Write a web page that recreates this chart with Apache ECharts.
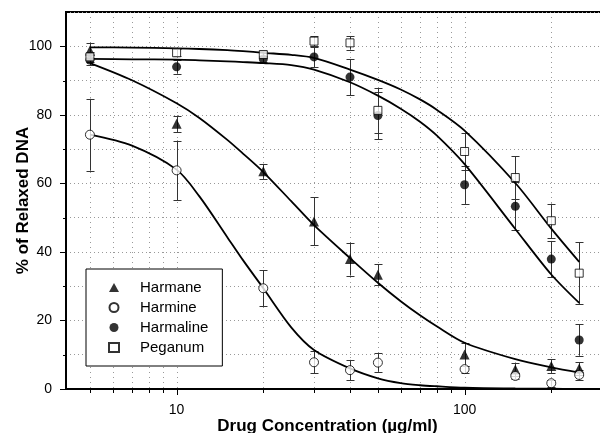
<!DOCTYPE html>
<html>
<head>
<meta charset="utf-8">
<script src="https://cdn.jsdelivr.net/npm/echarts@6/dist/echarts.min.js"></script>
<style>
    html, body { margin: 0; padding: 0; background: #fff; }
    #chart { width: 600px; height: 433px; }
</style>
</head>
<body>
<div id="chart"></div>
<script>
// 浓度 (µg/ml) 与各组的平均值 / 误差
let conc = [5, 10, 20, 30, 40, 50, 100, 150, 200, 250];
let harmane = [98.8, 77.4, 63.5, 48.9, 37.9, 33.3, 10.1, 5.7, 6.7, 6.0];
let harmaneErr = [2.2, 2.4, 2.2, 7.0, 4.8, 3.1, 3.4, 2.0, 2.0, 1.8];
let harmine = [74.2, 63.8, 29.4, 7.8, 5.5, 7.7, 5.8, 3.8, 1.7, 4.1];
let harmineErr = [10.5, 8.7, 5.2, 3.2, 3.0, 2.7, 1.0, 1.0, 1.0, 1.5];
let harmaline = [96.0, 94.0, 96.3, 96.9, 91.0, 79.8, 59.6, 53.3, 37.9, 14.3];
let harmalineErr = [1.5, 2.0, 1.0, 3.0, 5.3, 7.0, 5.6, 7.0, 5.3, 4.6];
let peganum = [96.9, 98.1, 97.6, 101.5, 101.0, 81.3, 69.3, 61.7, 49.1, 33.8];
let peganumErr = [1.5, 1.0, 1.0, 1.5, 2.0, 6.5, 5.4, 6.2, 5.0, 9.0];

// 拟合曲线
let fitX = [5, 7, 10, 12, 15, 17, 20, 25, 30, 40, 50, 60, 70, 80, 100, 150, 200, 250];
let harmaneFit = [95.1, 90.1, 83.4, 79.1, 72.7, 68.7, 63.3, 54.8, 47.8, 38.2, 31.0, 25.6, 21.5, 18.3, 13.5, 8.7, 6.3, 4.8];
let harmineFit = [74.2, 71.0, 64.0, 56.2, 44.3, 37.6, 29.4, 18.0, 11.4, 6.0, 3.1, 1.7, 1.1, 0.8, 0.4, 0.15, 0.08, 0.05];
let harmalineFit = [96.3, 96.2, 96.1, 95.9, 95.6, 95.4, 95.1, 94.5, 93.2, 89.5, 85.6, 81.8, 78.0, 74.0, 65.6, 46.7, 33.4, 25.1];
let peganumFit = [99.7, 99.6, 99.4, 99.2, 98.9, 98.6, 98.1, 97.5, 96.6, 93.2, 90.2, 87.4, 84.5, 81.5, 75.4, 60.1, 46.8, 37.1];

// 刻度
let xTicks = [5, 6, 7, 8, 9, 10, 20, 30, 40, 50, 60, 70, 80, 90, 100, 200];
let xMajorTicks = [10, 100];
let yTicks = [0, 10, 20, 30, 40, 50, 60, 70, 80, 90, 100];
let yLabels = [0, 20, 40, 60, 80, 100];

let xMin = 4.13, xMax = 300;
let yMin = 0, yMax = 110;

let myChart = echarts.init(document.getElementById('chart'));

function px(v) {
    return Math.round(v) + 0.5;
}

// x 方向网格线 + 刻度
function renderXTick(params, api) {
    let v = api.value(0);
    let b = api.coord([v, yMin]);
    let t = api.coord([v, yMax]);
    let len = xMajorTicks.indexOf(v) >= 0 ? 6 : 4;
    let x = px(b[0]);
    return {
        type: 'group',
        children: [{
            type: 'line',
            shape: { x1: x, y1: b[1] - 1, x2: x, y2: t[1] + 1 },
            style: { stroke: '#999', lineWidth: 1, lineDash: [1, 4] }
        }, {
            type: 'line',
            shape: { x1: x, y1: b[1], x2: x, y2: b[1] + len },
            style: { stroke: '#000', lineWidth: 1 }
        }]
    };
}

// y 刻度
function renderYTick(params, api) {
    let v = api.value(1);
    let p = api.coord([xMin, v]);
    let len = yLabels.indexOf(v) >= 0 ? 6 : 3;
    let y = px(p[1]);
    return {
        type: 'line',
        shape: { x1: p[0], y1: y, x2: p[0] - len, y2: y },
        style: { stroke: '#000', lineWidth: 1 }
    };
}

// 误差棒
function renderErr(params, api) {
    let x = api.value(0), y = api.value(1), e = api.value(2);
    let hi = api.coord([x, y + e]);
    let lo = api.coord([x, y - e]);
    let cx = px(hi[0]);
    let style = { stroke: '#333', lineWidth: 1 };
    return {
        type: 'group',
        children: [
            { type: 'line', shape: { x1: cx, y1: hi[1], x2: cx, y2: lo[1] }, style: style },
            { type: 'line', shape: { x1: cx - 4, y1: px(hi[1]), x2: cx + 4, y2: px(hi[1]) }, style: style },
            { type: 'line', shape: { x1: cx - 4, y1: px(lo[1]), x2: cx + 4, y2: px(lo[1]) }, style: style }
        ]
    };
}

function pairs(xs, ys) {
    return xs.map(function (x, i) { return [x, ys[i]]; });
}

function errs(ys, es) {
    return conc.map(function (x, i) { return [x, ys[i], es[i]]; });
}

let errData = [].concat(
    errs(harmane, harmaneErr),
    errs(harmine, harmineErr),
    errs(harmaline, harmalineErr),
    errs(peganum, peganumErr)
);

let fitLine = { color: '#000', width: 1.8 };

let option = {
    animation: false,
    textStyle: { fontFamily: 'Liberation Sans, Arial, sans-serif', color: '#000' },
    grid: {
        left: 66,
        top: 12,
        right: -2,
        bottom: 44,
        show: true,
        borderColor: '#000',
        borderWidth: 2,
        containLabel: false,
        outerBoundsMode: 'none'
    },
    legend: {
        left: 86,
        top: 269,
        orient: 'vertical',
        backgroundColor: '#fff',
        borderColor: '#000',
        borderWidth: 1,
        borderRadius: 0,
        padding: [11, 14, 11, 22],
        itemWidth: 10,
        itemHeight: 9,
        itemGap: 5,
        textStyle: { fontSize: 15, lineHeight: 15, color: '#000', padding: [0, 0, 0, 16] },
        data: ['Harmane', 'Harmine', 'Harmaline', 'Peganum']
    },
    xAxis: {
        type: 'log',
        logBase: 10,
        min: xMin,
        max: xMax,
        name: 'Drug Concentration (µg/ml)',
        nameLocation: 'middle',
        nameGap: 29,
        nameMoveOverlap: false,
        nameTextStyle: { fontSize: 17, fontWeight: 'bold', color: '#000', padding: [0, 13, 0, 0] },
        axisLine: { lineStyle: { color: '#000', width: 2 } },
        axisTick: { show: false },
        minorTick: { show: false },
        splitLine: { show: false },
        axisLabel: {
            fontSize: 14,
            color: '#000',
            margin: 14,
            showMinLabel: false,
            showMaxLabel: false,
            formatter: function (v) {
                return xMajorTicks.some(function (m) { return Math.abs(v - m) < 1e-6; }) ? String(Math.round(v)) : '';
            }
        }
    },
    yAxis: {
        type: 'value',
        min: yMin,
        max: yMax,
        interval: 10,
        name: '% of Relaxed DNA',
        nameLocation: 'middle',
        nameGap: 34,
        nameMoveOverlap: false,
        nameTextStyle: { fontSize: 17, fontWeight: 'bold', color: '#000' },
        axisLine: { show: true, lineStyle: { color: '#000', width: 2 } },
        axisTick: { show: false },
        splitLine: { show: true, lineStyle: { color: '#999', width: 1, type: [1, 3] } },
        axisLabel: {
            fontSize: 14,
            color: '#000',
            margin: 14,
            formatter: function (v) {
                return yLabels.indexOf(v) >= 0 ? String(v) : '';
            }
        }
    },
    series: [{
        name: 'xgrid',
        type: 'custom',
        renderItem: renderXTick,
        data: xTicks.map(function (v) { return [v, 0]; }),
        silent: true,
        z: 1
    }, {
        name: 'yticks',
        type: 'custom',
        renderItem: renderYTick,
        data: yTicks.map(function (v) { return [xMin, v]; }),
        silent: true,
        z: 1
    }, {
        name: 'errors',
        type: 'custom',
        renderItem: renderErr,
        data: errData,
        silent: true,
        z: 3
    }, {
        name: 'Harmane fit', type: 'line', data: pairs(fitX, harmaneFit),
        smooth: 0.3, showSymbol: false, lineStyle: fitLine, z: 4
    }, {
        name: 'Harmine fit', type: 'line', data: pairs(fitX, harmineFit),
        smooth: 0.3, showSymbol: false, lineStyle: fitLine, z: 4
    }, {
        name: 'Harmaline fit', type: 'line', data: pairs(fitX, harmalineFit),
        smooth: 0.3, showSymbol: false, lineStyle: fitLine, z: 4
    }, {
        name: 'Peganum fit', type: 'line', data: pairs(fitX, peganumFit),
        smooth: 0.3, showSymbol: false, lineStyle: fitLine, z: 4
    }, {
        name: 'Harmane', type: 'scatter', data: pairs(conc, harmane),
        symbol: 'triangle', symbolSize: 10,
        itemStyle: { color: '#000' }, z: 5
    }, {
        name: 'Harmine', type: 'scatter', data: pairs(conc, harmine),
        symbol: 'circle', symbolSize: 9,
        itemStyle: { color: '#fff', borderColor: '#000', borderWidth: 1 }, z: 5
    }, {
        name: 'Harmaline', type: 'scatter', data: pairs(conc, harmaline),
        symbol: 'circle', symbolSize: 9,
        itemStyle: { color: '#000' }, z: 5
    }, {
        name: 'Peganum', type: 'scatter', data: pairs(conc, peganum),
        symbol: 'rect', symbolSize: 8,
        itemStyle: { color: '#fff', borderColor: '#000', borderWidth: 1 }, z: 5
    }]
};

myChart.setOption(option);
</script>
</body>
</html>
